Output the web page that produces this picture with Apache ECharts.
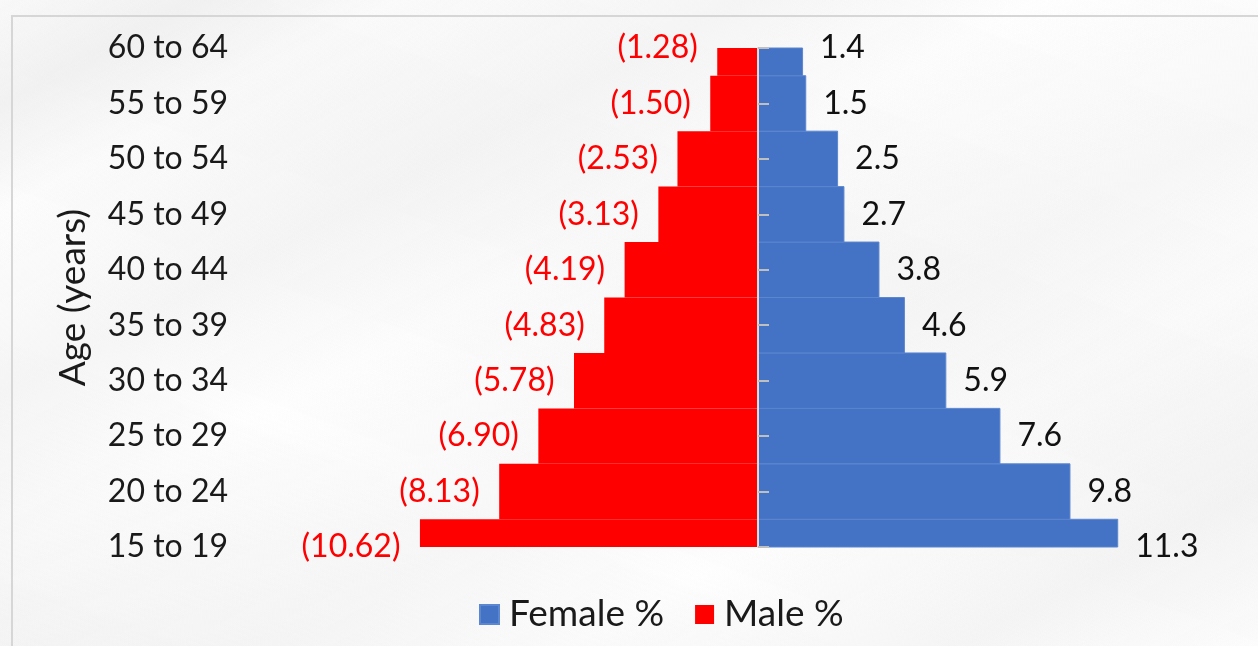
<!DOCTYPE html>
<html>
<head>
<meta charset="utf-8">
<script src="https://cdn.jsdelivr.net/npm/echarts@6/dist/echarts.min.js"></script>
<style>
  html, body { margin: 0; padding: 0; width: 1258px; height: 646px; overflow: hidden; }
  body {
    background:
      linear-gradient(152deg, rgba(255,255,255,0) 0%, rgba(235,235,235,0.6) 8%, rgba(255,255,255,0) 16%, rgba(238,238,238,0.5) 30%, rgba(255,255,255,0) 42%, rgba(240,240,240,0.45) 60%, rgba(255,255,255,0) 72%, rgba(236,236,236,0.5) 88%, rgba(255,255,255,0) 100%),
      linear-gradient(200deg, rgba(255,255,255,0.95) 0%, rgba(248,248,248,0.4) 40%, rgba(255,255,255,0.8) 70%, rgba(242,242,242,0.6) 100%),
      #f8f8f8;
  }
  #frame { position: absolute; left: 11px; top: 15px; width: 1300px; height: 700px;
           border-left: 2px solid #d6d6d6; border-top: 2px solid #d6d6d6; box-sizing: border-box; }
  #chart { position: absolute; left: 0; top: 0; width: 1258px; height: 646px; }
</style>
</head>
<body>
<div id="frame"></div>
<div id="chart"></div>
<script>
// Data (bottom to top)
const categories = ['15 to 19', '20 to 24', '25 to 29', '30 to 34', '35 to 39', '40 to 44', '45 to 49', '50 to 54', '55 to 59', '60 to 64'];
const femalePct = [11.3, 9.8, 7.6, 5.9, 4.6, 3.8, 2.7, 2.5, 1.5, 1.4];
const malePct = [10.62, 8.13, 6.90, 5.78, 4.83, 4.19, 3.13, 2.53, 1.50, 1.28];
const legendNames = ['Female %', 'Male %'];
const axisTitle = 'Age (years)';

const FONT = 'Lato';
const chart = echarts.init(document.getElementById('chart'), null, { renderer: 'canvas' });

const maleNeg = malePct.map(v => -v);

// Bar drawn centred on the tick, clipped to the plot area (Excel "on tick marks" look)
function renderBar(params, api) {
  const val = api.value(0);
  const cat = api.value(1);
  const p0 = api.coord([0, cat]);
  const p1 = api.coord([val, cat]);
  const h = api.size([0, 1])[1];
  const rect = {
    x: Math.min(p0[0], p1[0]),
    y: p0[1] - h / 2,
    width: Math.abs(p1[0] - p0[0]),
    height: h
  };
  const cs = params.coordSys;
  const clipped = echarts.graphic.clipRectByRect(rect, { x: cs.x, y: cs.y, width: cs.width, height: cs.height });
  if (!clipped) return null;
  return { type: 'rect', shape: clipped, style: api.style() };
}

chart.setOption({
  backgroundColor: 'transparent',
  animation: false,
  textStyle: { fontFamily: FONT },
  legend: {
    data: legendNames,
    bottom: 8,
    left: 474,
    icon: 'rect',
    itemWidth: 19,
    itemHeight: 19,
    itemGap: 31,
    textStyle: { fontFamily: FONT, fontSize: 37, color: '#1a1a1a', padding: [0, 0, 0, 5] },
    selectedMode: false
  },
  grid: { left: 376, right: 118, top: 48, bottom: 99, containLabel: false },
  xAxis: {
    type: 'value',
    min: -12,
    max: 12,
    show: false,
    splitLine: { show: false }
  },
  yAxis: [
    {
      type: 'category',
      data: categories,
      boundaryGap: false,
      position: 'left',
      axisLine: { show: false, onZero: false },
      axisTick: { show: false },
      axisLabel: { margin: 148, fontFamily: FONT, fontSize: 32, color: '#1a1a1a' },
      name: axisTitle,
      nameLocation: 'middle',
      nameRotate: 90,
      nameGap: 284,
      nameTextStyle: { fontFamily: FONT, fontSize: 37, color: '#1a1a1a' }
    },
    {
      type: 'category',
      data: categories,
      boundaryGap: false,
      position: 'right',
      z: 10,
      axisLine: { show: true, onZero: true, lineStyle: { color: '#dedede', width: 2 } },
      axisTick: { show: true, length: 11, lineStyle: { color: '#bfbfbf', width: 2 } },
      axisLabel: { show: false }
    }
  ],
  series: [
    {
      name: 'Female %',
      type: 'custom',
      yAxisIndex: 0,
      renderItem: renderBar,
      encode: { x: 0, y: 1 },
      data: femalePct.map((v, i) => [v, i]),
      itemStyle: { color: '#4472c4', borderColor: '#5b86d0', borderWidth: 1 },
      silent: true
    },
    {
      name: 'Male %',
      type: 'custom',
      yAxisIndex: 0,
      renderItem: renderBar,
      encode: { x: 0, y: 1 },
      data: maleNeg.map((v, i) => [v, i]),
      itemStyle: { color: '#ff0000' },
      silent: true
    },
    {
      name: 'femaleLabels',
      type: 'scatter',
      yAxisIndex: 0,
      symbolSize: 1,
      itemStyle: { color: 'rgba(0,0,0,0)', opacity: 1 },
      silent: true,
      z: 5,
      data: femalePct.map((v, i) => [v, i]),
      label: {
        show: true,
        position: 'right',
        distance: 17,
        formatter: p => p.value[0].toFixed(1),
        fontFamily: FONT, fontSize: 32, color: '#111111', opacity: 1, textBorderWidth: 0
      }
    },
    {
      name: 'maleLabels',
      type: 'scatter',
      yAxisIndex: 0,
      symbolSize: 1,
      itemStyle: { color: 'rgba(0,0,0,0)', opacity: 1 },
      silent: true,
      z: 5,
      data: maleNeg.map((v, i) => [v, i]),
      label: {
        show: true,
        position: 'left',
        distance: 19,
        formatter: p => '(' + (-p.value[0]).toFixed(2) + ')',
        fontFamily: FONT, fontSize: 32, color: '#ff0000', opacity: 1, textBorderWidth: 0
      }
    }
  ]
});
</script>
</body>
</html>
